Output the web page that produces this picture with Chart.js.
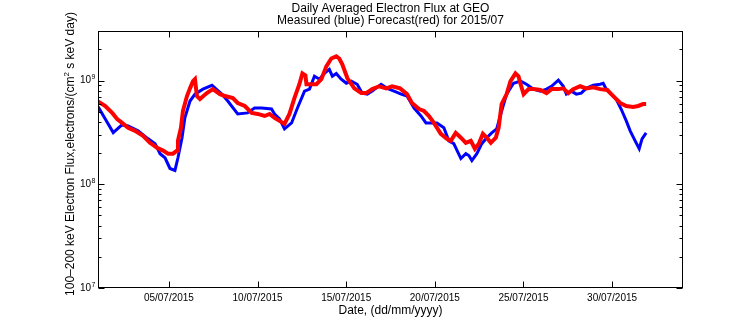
<!DOCTYPE html>
<html>
<head>
<meta charset="utf-8">
<script src="https://cdn.jsdelivr.net/npm/chart.js@4/dist/chart.umd.min.js"></script>
<style>
html,body{margin:0;padding:0;background:#fff;}
canvas{display:block;}
</style>
</head>
<body>
<canvas id="c" width="756" height="324"></canvas>
<script>
// ---- data (day of July 2015, flux) ----
const measuredDays = [1.0,1.41,1.86,2.35,2.70,3.26,3.83,4.22,4.50,4.78,5.06,5.34,5.51,5.74,5.90,6.19,6.47,6.92,7.43,7.98,8.32,8.88,9.44,9.83,10.23,10.79,10.96,11.24,11.52,11.92,12.25,12.65,12.93,13.21,13.49,13.77,14.05,14.22,14.44,14.72,15.01,15.29,15.62,15.90,16.19,16.47,16.97,17.31,17.70,18.10,18.43,18.83,19.22,19.50,19.78,20.12,20.51,20.79,21.07,21.47,21.75,21.92,22.09,22.37,22.65,22.93,23.21,23.49,23.77,24.05,24.44,24.84,25.17,25.57,25.96,26.30,26.58,26.97,27.25,27.42,27.70,27.98,28.26,28.54,28.94,29.33,29.50,29.67,29.95,30.23,30.51,30.80,31.02,31.30,31.53,31.69,31.92];
const measuredFlux = [5.6e8,4.26e8,3.15e8,3.73e8,3.65e8,3.27e8,2.74e8,2.46e8,1.97e8,1.80e8,1.42e8,1.36e8,1.80e8,2.81e8,4.36e8,6.34e8,7.39e8,8.26e8,9.0e8,7.39e8,6.34e8,4.76e8,4.87e8,5.43e8,5.43e8,5.31e8,4.76e8,4.26e8,3.42e8,3.90e8,5.43e8,7.9e8,8.26e8,1.10e9,1.03e9,1.17e9,1.28e9,1.10e9,1.17e9,1.03e9,9.4e8,9.85e8,9.2e8,7.56e8,7.39e8,7.9e8,9.2e8,8.4e8,7.9e8,7.39e8,7.08e8,5.43e8,4.55e8,3.90e8,3.90e8,3.90e8,3.50e8,2.62e8,2.46e8,1.77e8,1.97e8,1.89e8,1.69e8,1.97e8,2.46e8,2.81e8,3.13e8,3.42e8,5.08e8,7.39e8,9.4e8,9.85e8,9.2e8,8.26e8,7.9e8,8.26e8,8.8e8,1.01e9,8.8e8,7.39e8,7.9e8,7.39e8,7.56e8,8.4e8,9.0e8,9.2e8,9.4e8,8.26e8,7.39e8,6.62e8,5.31e8,4.08e8,3.27e8,2.62e8,2.20e8,2.74e8,3.13e8];

const forecastDays = [1.0,1.41,1.80,2.08,2.36,2.70,3.09,3.54,3.93,4.33,4.67,4.95,5.23,5.46,5.51,5.68,5.79,6.02,6.19,6.36,6.47,6.58,6.75,7.14,7.48,7.88,8.16,8.61,8.88,9.28,9.67,10.01,10.40,10.68,10.96,11.24,11.52,11.80,12.08,12.36,12.53,12.70,12.76,13.04,13.32,13.60,13.88,14.16,14.44,14.61,14.78,15.07,15.46,15.85,16.13,16.47,16.86,17.26,17.59,18.04,18.43,18.71,19.11,19.39,19.67,19.95,20.34,20.68,20.90,21.18,21.47,21.75,22.03,22.26,22.48,22.71,22.93,23.16,23.44,23.60,23.77,24.05,24.27,24.55,24.72,24.84,25.01,25.29,25.57,25.96,26.30,26.58,26.97,27.25,27.53,27.81,28.20,28.54,28.94,29.33,29.73,29.90,30.18,30.46,30.80,31.19,31.47,31.75,31.92];
const forecastFlux = [6.3e8,5.68e8,4.87e8,4.26e8,3.90e8,3.50e8,3.27e8,2.93e8,2.51e8,2.25e8,2.11e8,1.97e8,1.97e8,2.11e8,2.62e8,3.50e8,5.08e8,7.08e8,8.4e8,9.85e8,1.03e9,7.08e8,6.62e8,7.56e8,8.26e8,7.39e8,7.08e8,6.77e8,6.07e8,5.68e8,4.87e8,4.76e8,4.55e8,4.76e8,4.36e8,4.08e8,3.82e8,4.76e8,6.77e8,9.2e8,1.17e9,1.12e9,9.2e8,9.2e8,9.2e8,1.03e9,1.37e9,1.63e9,1.71e9,1.63e9,1.43e9,1.05e9,8.4e8,7.56e8,7.56e8,8.26e8,8.8e8,8.4e8,8.8e8,8.4e8,7.39e8,6.07e8,5.31e8,5.08e8,4.55e8,3.90e8,3.06e8,2.74e8,2.62e8,3.13e8,2.81e8,2.51e8,2.62e8,2.20e8,2.46e8,3.06e8,2.81e8,2.51e8,2.81e8,3.50e8,5.93e8,7.39e8,9.85e8,1.17e9,1.10e9,9.2e8,7.39e8,8.26e8,8.26e8,8.1e8,7.56e8,8.26e8,8.26e8,8.4e8,7.56e8,8.26e8,8.8e8,8.4e8,8.6e8,8.26e8,8.1e8,7.56e8,6.77e8,6.07e8,5.68e8,5.56e8,5.68e8,5.93e8,5.93e8];

const xTickDays = [5,10,15,20,25,30];
const xTickLabels = ['05/07/2015','10/07/2015','15/07/2015','20/07/2015','25/07/2015','30/07/2015'];
const yDecades = [7,8,9];
const titleLines = ['Daily Averaged Electron Flux at GEO','Measured (blue) Forecast(red) for 2015/07'];
const xTitle = 'Date, (dd/mm/yyyy)';
const yTitleParts = ['100\u2013200 keV Electron Flux,electrons/(cm','2',' s keV day)'];

const FONT = '"Liberation Sans", Arial, Helvetica, sans-serif';

const toPts = (xs, ys) => xs.map((d, i) => ({x: d, y: ys[i]}));

const decor = {
  id: 'decor',
  afterDraw(chart) {
    const ctx = chart.ctx;
    const {left, right, top, bottom} = chart.chartArea;
    const xs = chart.scales.x, ys = chart.scales.y;
    ctx.save();
    ctx.strokeStyle = '#000';
    ctx.lineWidth = 1;
    const L = Math.round(left) + 0.5, R = Math.round(right) - 0.5;
    const T = Math.round(top) + 0.5, B = Math.round(bottom) - 0.5;
    ctx.strokeRect(L, T, R - L, B - T);
    ctx.beginPath();
    xTickDays.forEach(d => {
      const px = Math.round(xs.getPixelForValue(d)) + 0.5;
      ctx.moveTo(px, B); ctx.lineTo(px, B - 6);
      ctx.moveTo(px, T); ctx.lineTo(px, T + 6);
    });
    for (let e = 7; e <= 9; e++) {
      for (let m = 1; m <= 9; m++) {
        const v = m * Math.pow(10, e);
        if (v < ys.min || v > ys.max) continue;
        const py = Math.round(ys.getPixelForValue(v)) + 0.5;
        const len = m === 1 ? 6 : 3;
        ctx.moveTo(L, py); ctx.lineTo(L + len, py);
        ctx.moveTo(R, py); ctx.lineTo(R - len, py);
      }
    }
    ctx.stroke();
    ctx.fillStyle = '#000';
    // y tick labels
    yDecades.forEach(e => {
      const py = ys.getPixelForValue(Math.pow(10, e));
      ctx.font = '10px ' + FONT;
      ctx.textAlign = 'right';
      ctx.textBaseline = 'middle';
      ctx.fillText('10', 91, py);
      ctx.font = '7px ' + FONT;
      ctx.textAlign = 'left';
      ctx.textBaseline = 'alphabetic';
      ctx.fillText(String(e), 91.5, py - 1.5);
    });
    // titles
    const cx = (left + right) / 2;
    ctx.font = '12px ' + FONT;
    ctx.textAlign = 'center';
    ctx.textBaseline = 'alphabetic';
    ctx.fillText(titleLines[0], cx, 11.5);
    ctx.fillText(titleLines[1], cx, 24);
    ctx.fillText(xTitle, cx, 314);
    // y title
    ctx.save();
    ctx.translate(74, 154);
    ctx.rotate(-Math.PI / 2);
    ctx.font = '12px ' + FONT;
    const w0 = ctx.measureText(yTitleParts[0]).width;
    ctx.font = '8px ' + FONT;
    const w1 = ctx.measureText(yTitleParts[1]).width;
    ctx.font = '12px ' + FONT;
    const w2 = ctx.measureText(yTitleParts[2]).width;
    let sx = -(w0 + w1 + w2) / 2;
    ctx.textAlign = 'left';
    ctx.fillText(yTitleParts[0], sx, 0);
    ctx.font = '8px ' + FONT;
    ctx.fillText(yTitleParts[1], sx + w0, -5);
    ctx.font = '12px ' + FONT;
    ctx.fillText(yTitleParts[2], sx + w0 + w1, 0);
    ctx.restore();
    ctx.restore();
  }
};

Chart.defaults.color = '#000';
new Chart(document.getElementById('c'), {
  type: 'line',
  data: {
    datasets: [
      {
        label: 'Forecast',
        data: toPts(forecastDays, forecastFlux),
        borderColor: '#ff0000',
        borderWidth: 4,
        pointRadius: 0,
        tension: 0,
        fill: false
      },
      {
        label: 'Measured',
        data: toPts(measuredDays, measuredFlux),
        borderColor: '#0000ff',
        borderWidth: 3,
        pointRadius: 0,
        tension: 0,
        fill: false
      }
    ]
  },
  options: {
    responsive: false,
    animation: false,
    devicePixelRatio: 1,
    layout: {padding: {top: 31, right: 73, bottom: 0, left: 0}},
    plugins: {legend: {display: false}, tooltip: {enabled: false}, title: {display: false}},
    scales: {
      x: {
        type: 'linear',
        min: 1,
        max: 34,
        grid: {display: false},
        border: {display: false},
        afterFit: s => { s.height = 36; },
        afterBuildTicks: s => { s.ticks = xTickDays.map(v => ({value: v})); },
        ticks: {
          autoSkip: false,
          maxRotation: 0,
          padding: -4,
          font: {family: FONT, size: 10},
          callback: (v) => xTickLabels[xTickDays.indexOf(v)]
        }
      },
      y: {
        type: 'logarithmic',
        min: 1e7,
        max: 3e9,
        grid: {display: false},
        border: {display: false},
        ticks: {display: false},
        afterFit: s => { s.width = 98; }
      }
    }
  },
  plugins: [decor]
});
</script>
</body>
</html>
